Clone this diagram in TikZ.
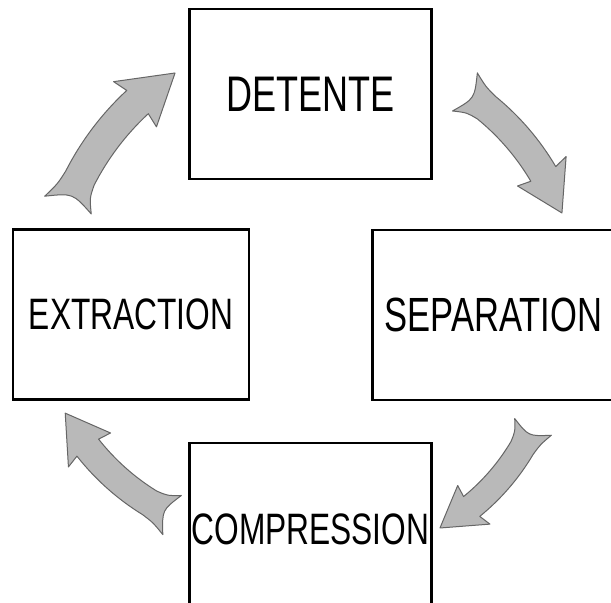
\documentclass[tikz,border=0pt]{standalone}
\usepackage{fontspec}
\newfontfamily\handfont[FakeStretch=0.72]{Liberation Sans}
\usetikzlibrary{calc}
\tikzset{
	% ------- every something
	every picture/.style={
		x=0.5pt, y=0.5pt,
	},
	% ------- custom
	stage/.style={
		draw, line width=1.3pt, inner sep=0pt,
		minimum width=121pt, minimum height=85pt,
		font=\handfont\fontsize{#1}{#1}\selectfont,
	},
	stage/.default=24pt,
	arrow body/.style={
		fill=gray!55, draw=black!60, line width=0.5pt, line join=round,
	},
	% tail at (0,0), tip at (150,0), bowed to the left
	pics/cycle arrow/.style={
		code={
			\begin{scope}[shift={(75,-228.4)}]
				\path[arrow body] (108.2:262.4)
					.. controls (105:256) .. (102:254.4)
					arc[start angle=102, end angle=81.8, radius=254.4]
					-- (82.5:268) -- (71.8:240.4) -- (82.5:213)
					-- (81.8:226.4)
					arc[start angle=81.8, end angle=102, radius=226.4]
					.. controls (105:225) .. (108.2:218.4)
					.. controls (105.5:240.4) .. cycle;
			\end{scope}
		}
	},
}

\begin{document}
\begin{tikzpicture}

% frame %{{{1

	\clip (0,0) rectangle (611,603);

% stages %{{{1

	\node[stage=25pt] (detente) at (310.5,509) {DETENTE};
	\node[stage=22pt, minimum width=118pt] (extraction) at (131,288.5) {EXTRACTION};
	\node[stage=24pt] (separation) at (493.5,288) {SEPARATION};
	\node[stage=22pt, minimum height=86pt] (compression) at (310.5,74) {COMPRESSION};

% arrow ends %{{{1

	\coordinate (ul tail) at (68,398);
	\coordinate (ul tip)  at (175,530);
	\coordinate (ur tail) at (465,511);
	\coordinate (ur tip)  at (562,390);
	\coordinate (lr tail) at (533,176);
	\coordinate (lr tip)  at (440,75);
	\coordinate (ll tail) at (172,88);
	\coordinate (ll tip)  at (65,190);

% cycle arrows %{{{1

	\foreach \a in {ul,ur,lr,ll}
		\path let \p1 = ($(\a\space tip)-(\a\space tail)$) in
			(\a\space tail) pic[rotate={atan2(\y1,\x1)}, scale={veclen(\x1,\y1)/75}]
			{cycle arrow};

% closing %{{{1

\end{tikzpicture}
\end{document}
